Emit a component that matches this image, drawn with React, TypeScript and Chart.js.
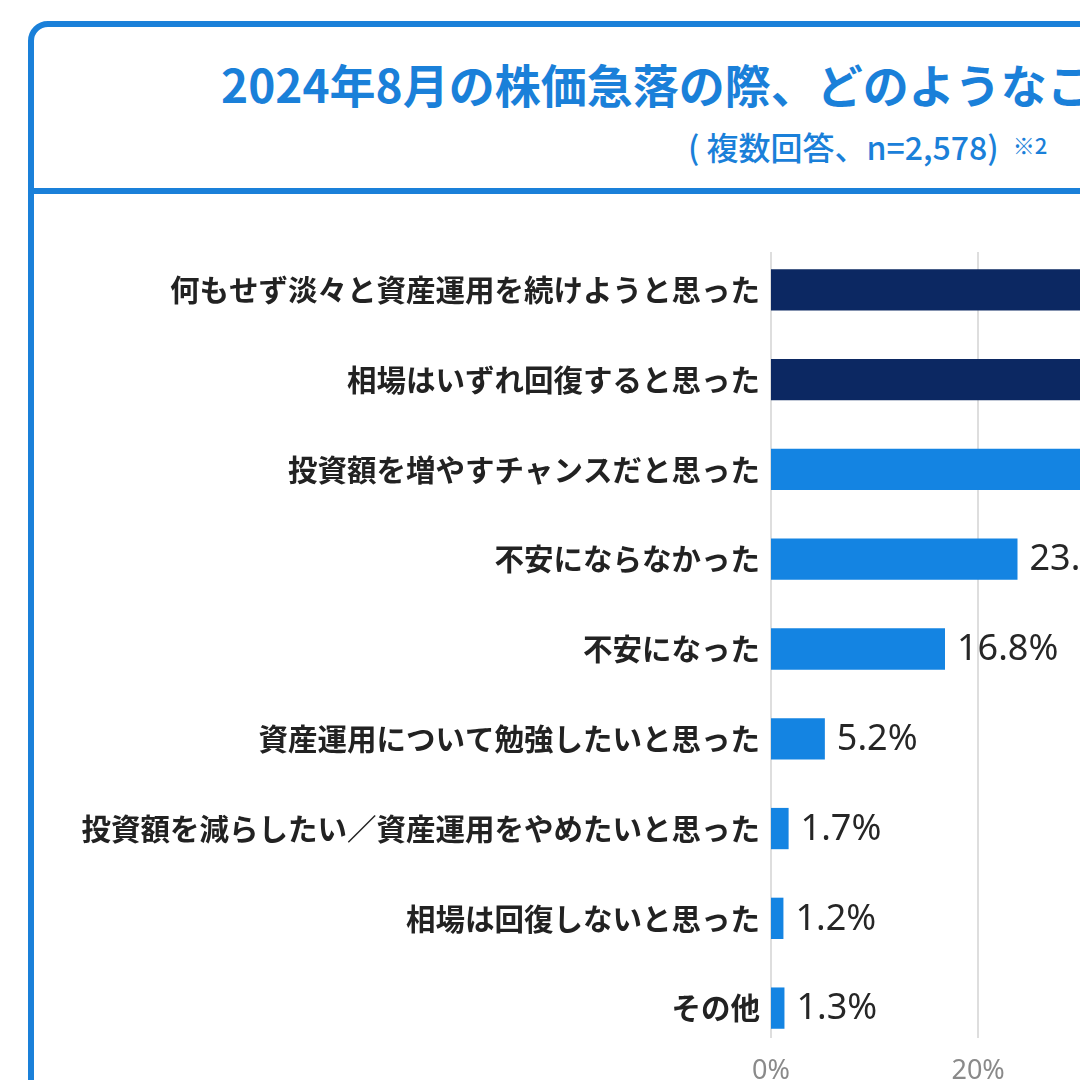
import React, { useEffect, useRef } from "react";
import { Chart, registerables } from "chart.js";

Chart.register(...registerables);

const titleText = "2024年8月の株価急落の際、どのようなことを思いましたか？";
const subtitleText = "( 複数回答、n=2,578)";
const subtitleNote = "※2";

const categories = [
  "何もせず淡々と資産運用を続けようと思った",
  "相場はいずれ回復すると思った",
  "投資額を増やすチャンスだと思った",
  "不安にならなかった",
  "不安になった",
  "資産運用について勉強したいと思った",
  "投資額を減らしたい／資産運用をやめたいと思った",
  "相場は回復しないと思った",
  "その他",
];
// first three bars run past the visible crop; their values are estimates
const values = [58.0, 52.5, 31.6, 23.8, 16.8, 5.2, 1.7, 1.2, 1.3];
const barColors = [
  "#0c2862", "#0c2862", "#1484e2", "#1484e2", "#1484e2",
  "#1484e2", "#1484e2", "#1484e2", "#1484e2",
];
const xTickValues = [0, 20, 40, 60];
const xMax = 70;

const BLUE = "#1a80d9";

export default function App() {
  const canvasRef = useRef<HTMLCanvasElement | null>(null);

  useEffect(() => {
    const canvas = canvasRef.current;
    if (!canvas) return;

    const gridPlugin = {
      id: "customGrid",
      beforeDatasetsDraw(chart: any) {
        const { ctx, chartArea, scales } = chart;
        const x = scales.x;
        ctx.save();
        ctx.strokeStyle = "#dedede";
        ctx.lineWidth = 2;
        xTickValues.forEach((v) => {
          const px = Math.round(x.getPixelForValue(v));
          ctx.beginPath();
          ctx.moveTo(px, chartArea.top + 7);
          ctx.lineTo(px, chartArea.bottom - 15);
          ctx.stroke();
        });
        ctx.restore();
      },
    };

    const labelPlugin = {
      id: "valueLabels",
      afterDatasetsDraw(chart: any) {
        const { ctx } = chart;
        const meta = chart.getDatasetMeta(0);
        ctx.save();
        ctx.font = '36px "Noto Sans"';
        ctx.fillStyle = "#262626";
        ctx.textAlign = "left";
        ctx.textBaseline = "middle";
        meta.data.forEach((bar: any, i: number) => {
          ctx.fillText(values[i].toFixed(1) + "%", bar.x + 12, bar.y + 1);
        });
        ctx.restore();
      },
    };

    const chart = new Chart(canvas, {
      type: "bar",
      data: {
        labels: categories,
        datasets: [
          {
            data: values,
            backgroundColor: barColors,
            borderWidth: 0,
            categoryPercentage: 1,
            barPercentage: 0.46,
          },
        ],
      },
      options: {
        indexAxis: "y",
        animation: false,
        responsive: false,
        maintainAspectRatio: false,
        layout: { padding: { top: 245, left: 0, right: 0, bottom: 0 } },
        plugins: {
          legend: { display: false },
          tooltip: { enabled: false },
          title: { display: false },
        },
        scales: {
          x: {
            type: "linear",
            min: 0,
            max: xMax,
            afterBuildTicks: (scale: any) => {
              scale.ticks = xTickValues.map((v) => ({ value: v }));
            },
            afterFit: (scale: any) => {
              scale.height = 47;
            },
            grid: { display: false, drawTicks: false },
            border: { display: false },
            ticks: {
              padding: 2,
              color: "#8a8a8a",
              font: { family: '"Noto Sans"', size: 27 },
              callback: (v: any) => v + "%",
            },
          },
          y: {
            type: "category",
            afterFit: (scale: any) => {
              scale.width = 771;
            },
            grid: { display: false, drawTicks: false },
            border: { display: false },
            ticks: {
              padding: 11,
              color: "#222222",
              font: { family: '"Noto Sans CJK JP"', size: 29.5, weight: "bold" },
            },
          },
        },
      },
      plugins: [gridPlugin, labelPlugin],
    });

    return () => chart.destroy();
  }, []);

  return (
    <div
      style={{
        position: "fixed",
        left: 0,
        top: 0,
        width: 1080,
        height: 1080,
        overflow: "hidden",
        background: "#ffffff",
        fontFamily: '"Noto Sans CJK JP", "Noto Sans", sans-serif',
      }}
    >
      <div
        style={{
          position: "absolute",
          left: 28,
          top: 21,
          width: 2000,
          height: 2000,
          border: `6px solid ${BLUE}`,
          borderRadius: 20,
          boxSizing: "border-box",
        }}
      />
      <div
        style={{
          position: "absolute",
          left: 28,
          top: 188,
          width: 2000,
          height: 6,
          background: BLUE,
        }}
      />
      <div
        style={{
          position: "absolute",
          left: 221,
          top: 53,
          whiteSpace: "nowrap",
          fontSize: 46,
          fontWeight: 700,
          color: BLUE,
          lineHeight: "60px",
        }}
      >
        {titleText}
      </div>
      <div
        style={{
          position: "absolute",
          left: 688,
          top: 125,
          whiteSpace: "nowrap",
          fontSize: 32,
          fontWeight: 500,
          color: BLUE,
          lineHeight: "42px",
        }}
      >
        {subtitleText}
        <span style={{ fontSize: 22, verticalAlign: "top", marginLeft: 14, position: "relative", top: -2 }}>
          {subtitleNote}
        </span>
      </div>
      <canvas
        ref={canvasRef}
        width={1496}
        height={1100}
        style={{ position: "absolute", left: 0, top: 0, width: 1496, height: 1100 }}
      />
    </div>
  );
}
